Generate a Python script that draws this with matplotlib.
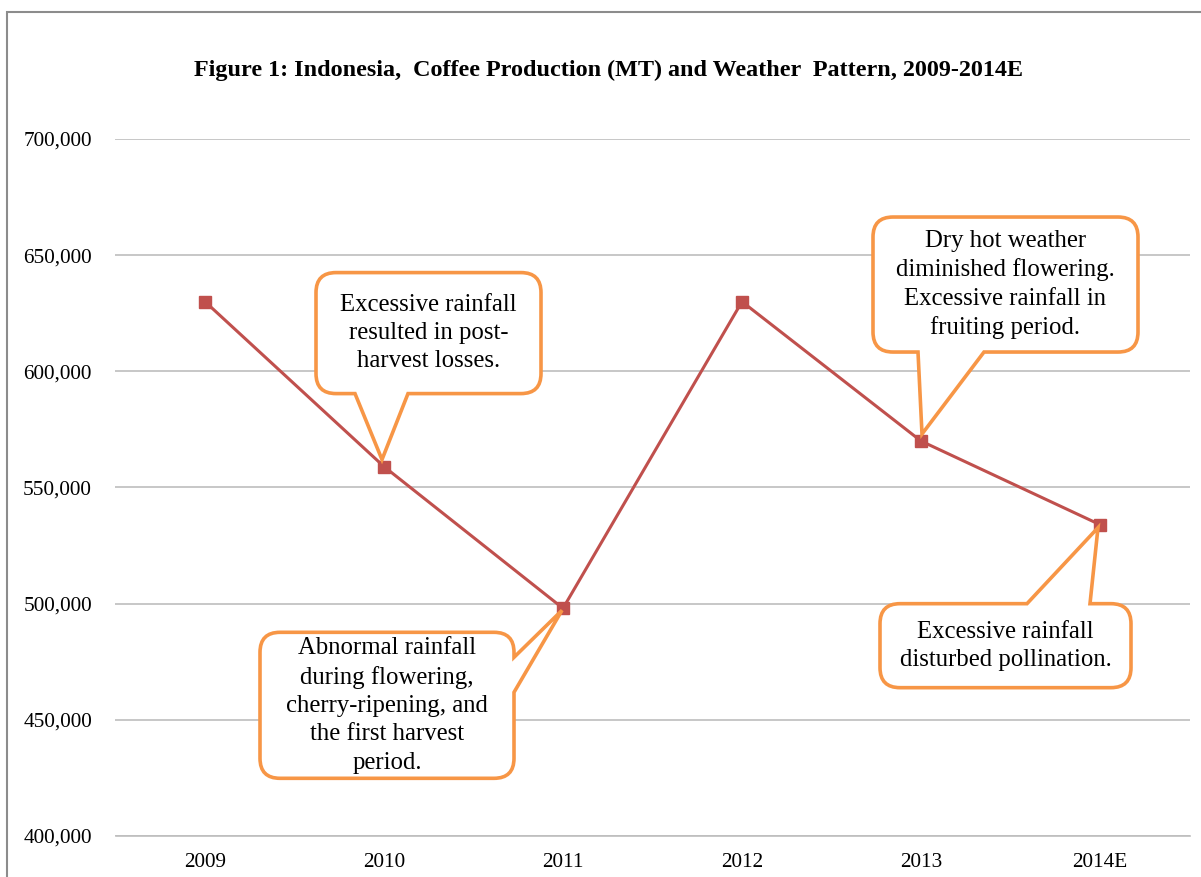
import matplotlib.pyplot as plt
from matplotlib.path import Path
from matplotlib.patches import PathPatch, Rectangle
from matplotlib.ticker import FuncFormatter

years = ['2009', '2010', '2011', '2012', '2013', '2014E']
production = [630000, 559000, 498000, 630000, 570000, 534000]

notes = {
    '2010': 'Excessive rainfall\nresulted in post-\nharvest losses.',
    '2011': 'Abnormal rainfall\nduring flowering,\ncherry-ripening, and\nthe first harvest\nperiod.',
    '2013': 'Dry hot weather\ndiminished flowering.\nExcessive rainfall in\nfruiting period.',
    '2014E': 'Excessive rainfall\ndisturbed pollination.',
}

# callout layout in pixels relative to the point (x right, y down):
# box (left, right, top, bottom), edge carrying the tail, tail base span, tip offset
layout = {
    '2010': ((-68, 157, -194, -73), 'bottom', (-29, 24), (-2, -7)),
    '2011': ((-303, -49, 24, 170), 'right', (49, 84), (-1, 2)),
    '2013': ((-48, 217, -224, -89), 'bottom', (-3, 63), (1, -7)),
    '2014E': ((-220, 31, 79, 163), 'top', (-73, -10), (-2, 3)),
}

LINE = '#C0504D'
ORANGE = '#F79646'
GRID = '#BEBEBE'
SERIF = ['Liberation Serif', 'DejaVu Serif']
W, H, DPI = 1201, 877, 100

plt.rcParams['font.family'] = SERIF


def callout_path(x0, x1, y0, y1, edge, base, tip, r=20):
    # rounded box in display pixels (y up) with a wedge tail on one edge
    verts, codes = [], []

    def move(p):
        verts.append(p)
        codes.append(Path.MOVETO)

    def line(p):
        verts.append(p)
        codes.append(Path.LINETO)

    def curve(c, p):
        verts.extend([c, p])
        codes.extend([Path.CURVE3, Path.CURVE3])

    a, b = base
    move((x0 + r, y0))
    if edge == 'bottom':
        line((a, y0)); line(tip); line((b, y0))
    line((x1 - r, y0))
    curve((x1, y0), (x1, y0 + r))
    if edge == 'right':
        line((x1, a)); line(tip); line((x1, b))
    line((x1, y1 - r))
    curve((x1, y1), (x1 - r, y1))
    if edge == 'top':
        line((b, y1)); line(tip); line((a, y1))
    line((x0 + r, y1))
    curve((x0, y1), (x0, y1 - r))
    line((x0, y0 + r))
    curve((x0, y0), (x0 + r, y0))
    verts.append((x0 + r, y0))
    codes.append(Path.CLOSEPOLY)
    return Path(verts, codes)


fig = plt.figure(figsize=(W / DPI, H / DPI), dpi=DPI)
ax = fig.add_axes([115.5 / W, (H - 836) / H, (1189.5 - 115.5) / W, (836 - 139) / H])

xs = list(range(len(years)))
ax.plot(xs, production, color=LINE, lw=2.2, marker='s', markersize=8.5,
        markeredgecolor=LINE, zorder=3)

ax.set_xlim(-0.5, len(years) - 0.5)
ax.set_ylim(400000, 700000)
ax.set_yticks(range(400000, 700001, 50000))
ax.yaxis.set_major_formatter(FuncFormatter(lambda v, p: f'{int(v):,}'))
ax.set_xticks(xs)
ax.set_xticklabels(years)
ax.tick_params(axis='both', length=0, labelsize=15.3, colors='black')
ax.tick_params(axis='y', pad=17)
ax.tick_params(axis='x', pad=12)
ax.grid(axis='y', color=GRID, lw=1.2)
ax.set_axisbelow(True)
for side in ['top', 'right', 'left']:
    ax.spines[side].set_visible(False)
ax.spines['bottom'].set_color(GRID)
ax.spines['bottom'].set_linewidth(1.2)

# callouts
for yr, txt in notes.items():
    i = years.index(yr)
    px, py = ax.transData.transform((i, production[i]))
    (l, r_, t, b), edge, (ba, bb), (tx, ty) = layout[yr]
    x0, x1 = px + l, px + r_
    y0, y1 = py - b, py - t
    tip = (px + tx, py - ty)
    if edge == 'right':
        base = (py - bb, py - ba)
    else:
        base = (px + ba, px + bb)
    path = callout_path(x0, x1, y0, y1, edge, base, tip)
    ax.add_artist(PathPatch(path, transform=None, facecolor='white',
                            edgecolor=ORANGE, lw=2.6, zorder=4,
                            joinstyle='miter', clip_on=False))
    ax.text((x0 + x1) / 2 / W, (y0 + y1) / 2 / H, txt, transform=fig.transFigure,
            ha='center', va='center', ma='center', fontsize=17.8,
            linespacing=1.37, zorder=5)

fig.text(608 / W, 1 - 70 / H,
         'Figure 1: Indonesia,  Coffee Production (MT) and Weather  Pattern, 2009-2014E',
         ha='center', va='center', fontsize=17.4, fontweight='bold')

# chart frame
fig.patches.append(Rectangle((7 / W, -0.1), 1.2, 1 - 12 / H + 0.1,
                             transform=fig.transFigure, fill=False,
                             edgecolor='#8C8C8C', lw=1.5))

fig.savefig('out.png', dpi=DPI)
